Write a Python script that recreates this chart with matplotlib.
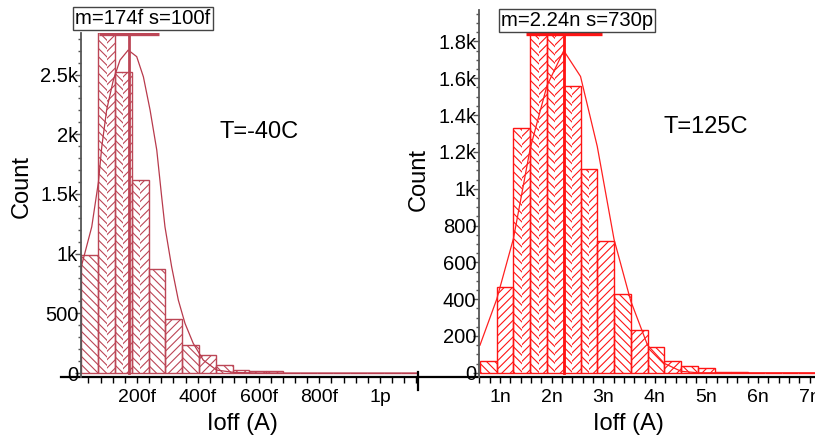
import matplotlib
matplotlib.use('Agg')
import matplotlib.pyplot as plt
import matplotlib.transforms as mtransforms
from matplotlib.ticker import FixedLocator, FixedFormatter, MultipleLocator

plt.rcParams['font.family'] = ['Liberation Sans', 'DejaVu Sans']
plt.rcParams['hatch.linewidth'] = 0.8

# --- T=-40C panel, x in fA ---
cold_edge0 = 17.0
cold_binw = 55.3
cold_counts = [990, 3000, 2520, 1615, 875, 455, 235, 153, 70, 28, 18, 18,
               4, 2, 1, 0, 1, 0, 0, 1]
cold_fit_x = [16, 18, 51, 73, 84, 100, 122, 144, 171, 199, 221, 243, 265,
              281, 292, 314, 336, 358, 385, 418, 462, 520, 600, 1125]
cold_fit_y = [860, 905, 1225, 1600, 1895, 2203, 2454, 2621, 2705, 2650, 2481,
              2203, 1868, 1480, 1225, 890, 611, 416, 249, 109, 25, 5, 0, 0]
cold_mean, cold_std = 174, 100
cold_xticks = [200, 400, 600, 800, 1000]
cold_xlabels = ['200f', '400f', '600f', '800f', '1p']
cold_yticks = [0, 500, 1000, 1500, 2000, 2500]
cold_ylabels = ['0', '500', '1k', '1.5k', '2k', '2.5k']

# --- T=125C panel, x in nA ---
hot_edge0 = 0.612
hot_binw = 0.3246
hot_counts = [65, 467, 1328, 1910, 1925, 1558, 1105, 716, 426, 232, 138, 65,
              38, 27, 5, 2, 1, 1, 0, 1, 0, 0]
hot_fit_x = [0.612, 0.937, 1.261, 1.586, 1.910, 2.235, 2.560, 2.884, 3.209,
             3.533, 3.858, 4.183, 4.507, 4.832, 7.49]
hot_fit_y = [150, 400, 730, 1220, 1560, 1750, 1610, 1230, 725, 390, 150, 51,
             8, 0, 0]
hot_mean, hot_std = 2.24, 0.73
hot_xticks = [1, 2, 3, 4, 5, 6, 7]
hot_xlabels = ['1n', '2n', '3n', '4n', '5n', '6n', '7n']
hot_yticks = [0, 200, 400, 600, 800, 1000, 1200, 1400, 1600, 1800]
hot_ylabels = ['0', '200', '400', '600', '800', '1k', '1.2k', '1.4k', '1.6k', '1.8k']

W, H = 815, 438
fig = plt.figure(figsize=(W / 100, H / 100), dpi=100)


def px_axes(x0, x1, ytop, ybot):
    return fig.add_axes([x0 / W, (H - ybot) / H, (x1 - x0) / W, (ybot - ytop) / H])


def draw_panel(ax, edge0, binw, counts, fit_x, fit_y, mean, std, stdline_y,
               color, fitcolor, box_text, box_x, box_y):
    # hatched bars; tall bins get a herringbone look
    for i, c in enumerate(counts):
        x0 = edge0 + i * binw
        if c > 1000:
            ax.bar(x0, c, width=binw / 2, align='edge', fill=False,
                   hatch='\\\\\\\\', edgecolor=color, linewidth=0)
            ax.bar(x0 + binw / 2, c, width=binw / 2, align='edge', fill=False,
                   hatch='////', edgecolor=color, linewidth=0)
        else:
            h = '\\\\\\\\' if i % 2 == 0 else '////'
            ax.bar(x0, c, width=binw, align='edge', fill=False, hatch=h,
                   edgecolor=color, linewidth=0)
    edges = [edge0 + i * binw for i in range(len(counts))]
    ax.bar(edges, counts, width=binw, align='edge', fill=False,
           edgecolor=color, linewidth=1.0)
    ax.plot(fit_x, fit_y, color=fitcolor, lw=0.9)
    ax.plot([mean, mean], [0, stdline_y], color=color, lw=2.0)
    ax.plot([mean - std, mean + std], [stdline_y, stdline_y], color=color,
            lw=2.4, solid_capstyle='butt')
    trans = mtransforms.blended_transform_factory(ax.transData, ax.transAxes)
    ax.text(box_x, box_y, box_text, transform=trans, ha='center', va='center',
            fontsize=14.6, zorder=10, clip_on=False,
            bbox=dict(boxstyle='square,pad=0.1', fc='white', ec='#444444', lw=1))


def style_axes(ax, xticks, xlabels, xminor, yticks, ylabels, yminor, left_ext):
    for s in ['top', 'right', 'bottom']:
        ax.spines[s].set_visible(False)
    ax.spines['left'].set_color('#555555')
    ax.spines['left'].set_linewidth(1.3)
    ax.plot([left_ext, 1], [0, 0], transform=ax.transAxes, color='black',
            lw=1.6, clip_on=False)
    ax.xaxis.set_major_locator(FixedLocator(xticks))
    ax.xaxis.set_major_formatter(FixedFormatter(xlabels))
    ax.xaxis.set_minor_locator(MultipleLocator(xminor))
    ax.yaxis.set_major_locator(FixedLocator(yticks))
    ax.yaxis.set_major_formatter(FixedFormatter(ylabels))
    ax.yaxis.set_minor_locator(MultipleLocator(yminor))
    ax.tick_params(axis='x', which='both', length=4.3, width=1, color='black',
                   labelsize=14, pad=4)
    ax.tick_params(axis='y', which='major', length=4, width=1, color='#555555',
                   labelsize=14.5, pad=-2)
    ax.tick_params(axis='y', which='minor', length=2.5, width=1, color='#555555')
    ax.set_ylabel('Count', fontsize=17)
    ax.set_xlabel('Ioff (A)', fontsize=17)


# left panel
ax1 = px_axes(81, 418, 33, 377)
draw_panel(ax1, cold_edge0, cold_binw, cold_counts, cold_fit_x, cold_fit_y,
           cold_mean, cold_std, 2839, '#bc4656', '#b83a4c',
           'm=174f s=100f', 220, 1.042)
ax1.set_xlim(15.6, 1125)
ax1.set_ylim(-33, 2848)
style_axes(ax1, cold_xticks, cold_xlabels, 40, cold_yticks, cold_ylabels, 100,
           -20 / 337)
ax1.plot([1, 1], [5 / 344, -13 / 344], transform=ax1.transAxes, color='black',
         lw=1.6, clip_on=False)
ax1.yaxis.set_label_coords(-0.142, 0.555)
ax1.xaxis.set_label_coords(0.478, -0.105)

# right panel
ax2 = px_axes(479, 835, 10, 377)
draw_panel(ax2, hot_edge0, hot_binw, hot_counts, hot_fit_x, hot_fit_y,
           hot_mean, hot_std, 1839, '#ff1414', '#ff2020',
           'm=2.24n s=730p', 2.49, 0.971)
ax2.set_xlim(0.593, 7.49)
ax2.set_ylim(-23, 1971)
style_axes(ax2, hot_xticks, hot_xlabels, 0.2, hot_yticks, hot_ylabels, 50,
           -61 / 356)
ax2.yaxis.set_label_coords(-0.138, 0.537)
ax2.xaxis.set_label_coords(0.419, -0.098)

fig.text(220 / W, 1 - 132.5 / H, 'T=-40C', fontsize=17, ha='left', va='center')
fig.text(663 / W, 1 - 126.5 / H, 'T=125C', fontsize=17, ha='left', va='center')

fig.savefig('out.png', dpi=100)
